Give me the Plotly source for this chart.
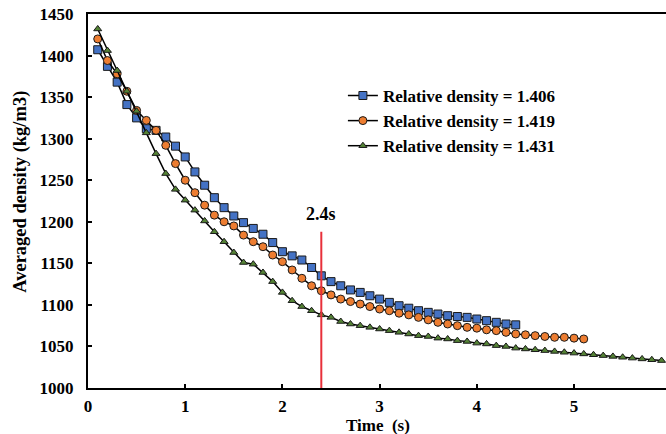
import plotly.graph_objects as go

time_s = [0.1, 0.2, 0.3, 0.4, 0.5, 0.6, 0.7, 0.8, 0.9, 1.0,
          1.1, 1.2, 1.3, 1.4, 1.5, 1.6, 1.7, 1.8, 1.9, 2.0,
          2.1, 2.2, 2.3, 2.4, 2.5, 2.6, 2.7, 2.8, 2.9, 3.0,
          3.1, 3.2, 3.3, 3.4, 3.5, 3.6, 3.7, 3.8, 3.9, 4.0,
          4.1, 4.2, 4.3, 4.4, 4.5, 4.6, 4.7, 4.8, 4.9, 5.0,
          5.1, 5.2, 5.3, 5.4, 5.5, 5.6, 5.7, 5.8, 5.9]

rho_1406 = [1407, 1387, 1368, 1341, 1325, 1312, 1310, 1302, 1291, 1278,
            1260, 1244, 1229, 1217, 1207, 1199, 1192, 1185, 1175, 1164,
            1159, 1154, 1145, 1135, 1128, 1123, 1118, 1115, 1111, 1107,
            1103, 1099, 1096, 1093, 1091, 1089, 1087, 1086, 1085, 1083,
            1081, 1079, 1077, 1076]

rho_1419 = [1420, 1394, 1378, 1357, 1334, 1322, 1310, 1292, 1270, 1250,
            1235, 1220, 1208, 1200, 1195, 1184, 1176, 1170, 1160, 1152,
            1142, 1132, 1123, 1117, 1112, 1107, 1104, 1101, 1098, 1095,
            1093, 1090, 1088, 1085, 1082, 1079, 1077, 1075, 1073, 1072,
            1070, 1069, 1067, 1065, 1064, 1063, 1062, 1061, 1061, 1060,
            1059]

rho_1431 = [1432, 1406, 1382, 1357, 1333, 1307, 1282, 1258, 1239, 1226,
            1214, 1201, 1188, 1176, 1163, 1151, 1149, 1139, 1128, 1115,
            1105, 1098, 1093, 1088, 1085, 1080, 1077, 1075, 1073, 1071,
            1069, 1067, 1065, 1063, 1062, 1060, 1059, 1057, 1056, 1054,
            1053, 1051, 1050, 1048, 1047, 1046, 1045, 1044, 1043, 1042,
            1041, 1040, 1039, 1038, 1037, 1036, 1035, 1034, 1033]

series_names = ["Relative density = 1.406", "Relative density = 1.419", "Relative density = 1.431"]
x_ticks = [0, 1, 2, 3, 4, 5, 6]
y_ticks = [1000, 1050, 1100, 1150, 1200, 1250, 1300, 1350, 1400, 1450]
x_title = "Time  (s)"
y_title = "Averaged density (kg/m3)"
marker_time = 2.4
marker_label = "2.4s"
marker_top = 1188

FONT = "Liberation Serif"

fig = go.Figure()
specs = [
    (rho_1406, "square", "#4472C4", 8),
    (rho_1419, "circle", "#ED7D31", 8),
    (rho_1431, "triangle-up", "#548235", 7),
]
for (vals, sym, col, sz), name in zip(specs, series_names):
    fig.add_trace(go.Scatter(
        x=time_s[:len(vals)], y=vals, name=name, mode="lines+markers",
        line=dict(color="black", width=1.5),
        marker=dict(symbol=sym, size=sz, color=col, line=dict(color="#1a1a1a", width=1)),
    ))

fig.add_shape(type="line", xref="x", yref="y", x0=marker_time, x1=marker_time,
              y0=1000, y1=marker_top, line=dict(color="#E8303A", width=2))
fig.add_annotation(x=marker_time, y=marker_top, xref="x", yref="y", text=marker_label,
                   showarrow=False, yanchor="bottom", yshift=6,
                   font=dict(family=FONT, size=18, color="black", weight="bold"))
fig.add_annotation(x=0.502, y=-0.1, xref="paper", yref="paper", text=x_title,
                   showarrow=False, xanchor="center", yanchor="middle", borderpad=0,
                   font=dict(family=FONT, size=17, color="black", weight="bold"))
fig.add_annotation(x=-0.118, y=0.524, xref="paper", yref="paper", text=y_title,
                   showarrow=False, xanchor="center", yanchor="middle", textangle=-90,
                   font=dict(family=FONT, size=18.5, color="black", weight="bold"))

fig.update_layout(
    width=666, height=434,
    margin=dict(l=88, r=0, t=14, b=46, autoexpand=False),
    paper_bgcolor="white", plot_bgcolor="white",
    font=dict(family=FONT, size=17, color="black", weight="bold"),
    legend=dict(x=0.441, y=0.829, xanchor="left", yanchor="top",
                bgcolor="rgba(0,0,0,0)", font=dict(family=FONT, size=17, weight="bold"),
                tracegroupgap=0),
    showlegend=True,
)
fig.update_xaxes(
    range=[0, 5.946], tickvals=x_ticks, ticks="inside", ticklen=4, tickwidth=1.5,
    tickcolor="black", showline=True, linecolor="black", linewidth=2, mirror=True,
    showgrid=False, zeroline=False, ticklabelstandoff=2,
    tickfont=dict(family=FONT, size=17, weight="bold"),
)
fig.update_yaxes(
    range=[1000, 1450], tickvals=y_ticks, ticks="inside", ticklen=4, tickwidth=1.5,
    tickcolor="black", showline=True, linecolor="black", linewidth=2,
    showgrid=False, zeroline=False, ticklabelstandoff=9, ticklabeloverflow="allow",
    tickfont=dict(family=FONT, size=17, weight="bold"),
)

fig.write_html("out.html", config={"displayModeBar": False},
               post_script="document.body.style.margin='0';")
